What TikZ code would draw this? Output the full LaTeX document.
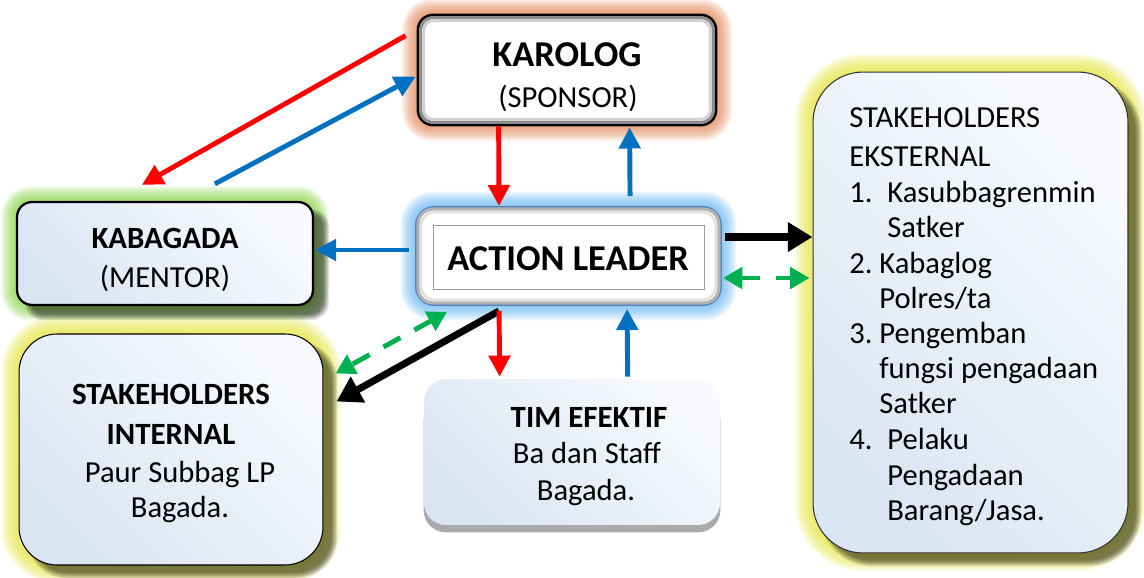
\documentclass[tikz,border=0pt]{standalone}
\usepackage{fontspec}
\setmainfont{Carlito}
\usetikzlibrary{arrows.meta,calc}
\pgfdeclarelayer{bg}
\pgfsetlayers{bg,main}

\definecolor{arrred}{RGB}{255,0,0}
\definecolor{arrblue}{RGB}{0,112,192}
\definecolor{arrgreen}{RGB}{0,176,80}
\definecolor{glowor}{RGB}{230,135,85}
\definecolor{glowbl}{RGB}{105,185,245}
\definecolor{glowgr}{RGB}{135,212,65}
\definecolor{glowye}{RGB}{232,232,70}
\definecolor{fillA}{RGB}{218,229,243}
\definecolor{fillB}{RGB}{248,250,253}
\definecolor{edgeblue}{RGB}{79,129,189}

% soft halo around a named box: node, colour, corner radius (units), steps
\newcommand\boxglow[4]{%
  \foreach \k in {1,...,#4}{%
    \pgfmathsetmacro\rr{(#3+1.6*\k)*0.02}%
    \fill[#2, opacity=0.12, rounded corners=\rr cm]
      ($(#1.south west)+(-1.6*\k,1.6*\k)$) rectangle ($(#1.north east)+(1.6*\k,-1.6*\k)$);
  }}
% blurred drop shadow: node, dx, dy, corner radius (units), colour
\newcommand\boxshadow[5]{%
  \foreach \k in {-3,...,3}{%
    \pgfmathsetmacro\rr{(#4+\k)*0.02}%
    \fill[#5, opacity=0.09, rounded corners=\rr cm]
      ($(#1.south west)+(#2-\k,#3+\k)$) rectangle ($(#1.north east)+(#2+\k,#3-\k)$);
  }}

\tikzset{
  txt/.style={font=\fontsize{17.4}{20}\selectfont, inner sep=0pt},
  btxt/.style={font=\bfseries\fontsize{17.6}{20}\selectfont, inner sep=0pt},
  bigtxt/.style={font=\bfseries\fontsize{20.7}{24}\selectfont, inner sep=0pt},
  panel/.style={rectangle, inner sep=0pt, bottom color=fillA, top color=fillB, shading angle=-45},
  arr/.style={line width=2.8pt, -{Triangle[length=12pt,width=12pt]}},
  heavyarr/.style={line width=4pt, -{Triangle[length=14pt,width=16pt]}},
  duoarr/.style={line width=2.8pt, dash pattern=on 11pt off 9pt,
    {Triangle[length=11pt,width=12pt]}-{Triangle[length=11pt,width=12pt]}},
}

\begin{document}
\begin{tikzpicture}[x=0.02cm, y=-0.02cm]
\useasboundingbox (0,0) rectangle (1144,578);

% ---- boxes ----
\node[rectangle, fill=white, draw=black, line width=1.6pt, rounded corners=0.3cm,
      minimum width=5.96cm, minimum height=2.2cm] (karolog) at (567,70) {};
\node[rectangle, fill=white, draw=edgeblue, line width=1.1pt, rounded corners=0.36cm,
      minimum width=6.1cm, minimum height=1.96cm] (leader) at (568.5,256) {};
\node[panel, draw=black, line width=1.3pt, rounded corners=0.3cm,
      minimum width=5.92cm, minimum height=2.06cm] (kabagada) at (165,253.5) {};
\node[panel, draw=black, line width=0.6pt, rounded corners=0.76cm,
      minimum width=6.08cm, minimum height=4.62cm] (internal) at (171,449.5) {};
\node[panel, rounded corners=0.44cm,
      minimum width=5.92cm, minimum height=2.92cm] (tim) at (572,452) {};
\node[panel, draw=black!80, line width=0.6pt, rounded corners=1cm,
      minimum width=6.3cm, minimum height=9.62cm] (external) at (970.5,312.5) {};

% ---- page, halos and shadows (behind the boxes) ----
\begin{pgfonlayer}{bg}
  \fill[white] (0,0) rectangle (1144,578);
  \boxglow{karolog}{glowor}{15}{9}
  \boxglow{leader}{glowbl}{18}{9}
  \boxglow{kabagada}{glowgr}{15}{9}
  \boxglow{internal}{glowye}{38}{11}
  \boxglow{external}{glowye}{50}{11}
  \boxshadow{kabagada}{12}{11}{15}{black}
  \boxshadow{internal}{11}{10}{38}{black}
  \boxshadow{external}{10}{10}{50}{black}
  \fill[black!33, rounded corners=0.44cm]
    ($(tim.south west)+(0,7)$) rectangle ($(tim.north east)+(0,20)$);
\end{pgfonlayer}

% bevels of the two button boxes
\draw[black!45, line width=1.8pt, rounded corners=0.24cm]
  ($(karolog.south west)+(4,-4)$) rectangle ($(karolog.north east)+(-4,4)$);
\draw[black!18, line width=1.6pt, rounded corners=0.2cm]
  ($(karolog.south west)+(7,-7)$) rectangle ($(karolog.north east)+(-7,7)$);
\draw[black!30, line width=1.8pt, rounded corners=0.3cm]
  ($(leader.south west)+(3,-3)$) rectangle ($(leader.north east)+(-3,3)$);
\draw[black!12, line width=1.5pt, rounded corners=0.27cm]
  ($(leader.south west)+(6,-6)$) rectangle ($(leader.north east)+(-6,6)$);
\draw[black!40, line width=0.5pt]
  ($(leader.north west)+(18,19)$) rectangle ($(leader.south east)+(-18,-17)$);

% ---- texts ----
\node[bigtxt, anchor=base] (tkarolog) at (567,67) {KAROLOG};
\node[txt, anchor=base] (tsponsor) at (568,107) {(SPONSOR)};
\node[bigtxt, anchor=base] (tleader) at (568,270) {ACTION LEADER};
\node[btxt, anchor=base] (tkabagada) at (165,248) {KABAGADA};
\node[txt, anchor=base] (tmentor) at (165,287) {(MENTOR)};
\node[btxt, anchor=base] (tint1) at (171,404) {STAKEHOLDERS};
\node[btxt, anchor=base] (tint2) at (171,444) {INTERNAL};
\node[txt, anchor=base] (tint3) at (180,482) {Paur Subbag LP};
\node[txt, anchor=base] (tint4) at (180,517) {Bagada.};
\node[btxt, anchor=base] (ttim1) at (589,427) {TIM EFEKTIF};
\node[txt, anchor=base] (ttim2) at (587,463) {Ba dan Staff};
\node[txt, anchor=base] (ttim3) at (586,500) {Bagada.};

\node[txt, anchor=base west] (te1) at (849,127) {STAKEHOLDERS};
\node[txt, anchor=base west] (te2) at (849,166) {EKSTERNAL};
\node[txt, anchor=base west] (te3a) at (849,202) {1.};
\node[txt, anchor=base west] (te3) at (887,202) {Kasubbagrenmin};
\node[txt, anchor=base west] (te4) at (887,237) {Satker};
\node[txt, anchor=base west] (te5a) at (849,273) {2.};
\node[txt, anchor=base west] (te5) at (879,273) {Kabaglog};
\node[txt, anchor=base west] (te6) at (879,308) {Polres/ta};
\node[txt, anchor=base west] (te7a) at (849,343) {3.};
\node[txt, anchor=base west] (te7) at (879,343) {Pengemban};
\node[txt, anchor=base west] (te8) at (879,378) {fungsi pengadaan};
\node[txt, anchor=base west] (te9) at (879,413) {Satker};
\node[txt, anchor=base west] (te10a) at (849,449) {4.};
\node[txt, anchor=base west] (te10) at (887,449) {Pelaku};
\node[txt, anchor=base west] (te11) at (887,485) {Pengadaan};
\node[txt, anchor=base west] (te12) at (887,520) {Barang/Jasa.};

% ---- connectors ----
% sponsor <-> mentor
\draw[arr, arrred]  ($(karolog.north west)+(-11,22)$) -- ($(kabagada.north west)+(126,-16)$);
\draw[arr, arrblue] ($(kabagada.north west)+(199,-17)$) -- ($(karolog.north west)+(-1,63)$);
% sponsor <-> action leader
\draw[arr, arrred]  ($(karolog.south west)+(82,0)$) -- ($(leader.north west)+(84,0)$);
\draw[arr, arrblue] ($(leader.north west)+(215,-10)$) -- ($(karolog.south west)+(213,1)$);
% action leader -> mentor
\draw[arr, arrblue] ($(leader.west)+(-6,-6)$) -- ($(kabagada.east)+(1,-3.5)$);
% action leader <-> external stakeholders
\draw[heavyarr, black] ($(leader.east)+(3,-19)$) -- ($(external.west)+(0,-75.5)$);
\draw[duoarr, arrgreen] ($(leader.east)+(1,22)$) -- ($(external.west)+(-3,-34.5)$);
% action leader <-> internal stakeholders
\draw[duoarr, arrgreen] ($(leader.south west)+(32,6)$) -- ($(internal.north east)+(12,40)$);
\draw[heavyarr, black] ($(leader.south west)+(84,5)$) -- ($(internal.north east)+(13,68)$);
% action leader <-> effective team
\draw[arr, arrred]  ($(leader.south west)+(84,5)$) -- ($(tim.north west)+(76,-2)$);
\draw[arr, arrblue] ($(tim.north west)+(204,-2)$) -- ($(leader.south west)+(212,3)$);
\end{tikzpicture}
\end{document}
